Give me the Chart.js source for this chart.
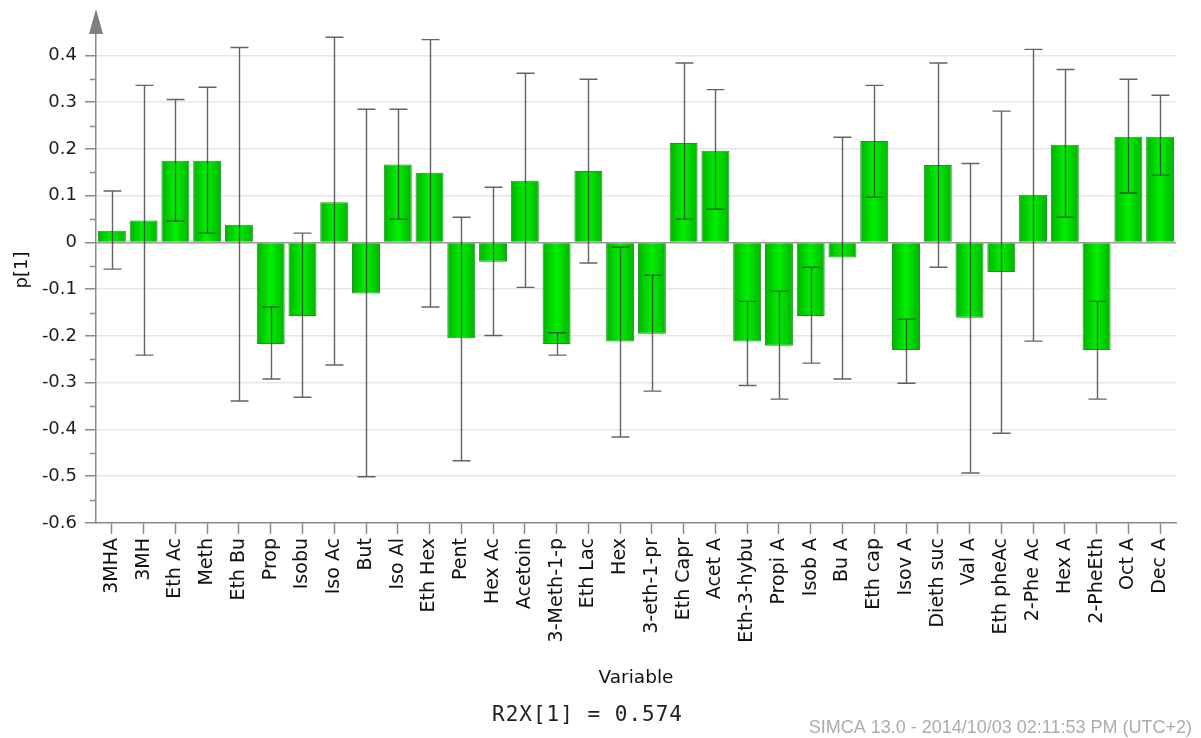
<!DOCTYPE html>
<html>
<head>
<meta charset="utf-8">
<title>p[1] loadings</title>
<script src="https://cdn.jsdelivr.net/npm/chart.js@4/dist/chart.umd.min.js"></script>
<style>
  html, body { margin: 0; padding: 0; background: #ffffff; }
  #wrap { width: 1201px; height: 738px; }
</style>
</head>
<body>
<div id="wrap"><canvas id="chart" width="1201" height="738"></canvas></div>
<script>
// Variables (x categories)
const variables = [
  '3MHA', '3MH', 'Eth Ac', 'Meth', 'Eth Bu', 'Prop', 'Isobu', 'Iso Ac', 'But', 'Iso Al',
  'Eth Hex', 'Pent', 'Hex Ac', 'Acetoin', '3-Meth-1-p', 'Eth Lac', 'Hex', '3-eth-1-pr',
  'Eth Capr', 'Acet A', 'Eth-3-hybu', 'Propi A', 'Isob A', 'Bu A', 'Eth cap', 'Isov A',
  'Dieth suc', 'Val A', 'Eth pheAc', '2-Phe Ac', 'Hex A', '2-PheEth', 'Oct A', 'Dec A'
];

// Loadings p[1]
const loadings = [
  0.025, 0.047, 0.175, 0.175, 0.038, -0.217, -0.157, 0.086, -0.109, 0.167,
  0.149, -0.205, -0.041, 0.132, -0.217, 0.153, -0.212, -0.195,
  0.213, 0.196, -0.212, -0.221, -0.157, -0.032, 0.217, -0.230,
  0.166, -0.161, -0.063, 0.102, 0.209, -0.230, 0.226, 0.226
];

// Confidence interval ends (upper / lower)
const ciUpper = [
  0.110, 0.336, 0.306, 0.332, 0.417, -0.138, 0.020, 0.439, 0.285, 0.285,
  0.434, 0.054, 0.118, 0.362, -0.193, 0.349, -0.010, -0.070,
  0.384, 0.327, -0.126, -0.104, -0.053, 0.225, 0.336, -0.164,
  0.384, 0.169, 0.281, 0.413, 0.370, -0.126, 0.349, 0.315
];
const ciLower = [
  -0.057, -0.241, 0.046, 0.020, -0.339, -0.292, -0.331, -0.262, -0.501, 0.050,
  -0.138, -0.467, -0.199, -0.096, -0.241, -0.044, -0.416, -0.318,
  0.050, 0.071, -0.306, -0.335, -0.258, -0.292, 0.097, -0.301,
  -0.053, -0.493, -0.408, -0.211, 0.054, -0.335, 0.106, 0.144
];

// Y axis range; ticks every 0.05, labels every 0.1
const yMin = -0.6;
const yMax = 0.4545;
const yTickValues = [
  -0.6, -0.55, -0.5, -0.45, -0.4, -0.35, -0.3, -0.25, -0.2, -0.15, -0.1, -0.05,
  0, 0.05, 0.1, 0.15, 0.2, 0.25, 0.3, 0.35, 0.4
];

// Texts
const yTitle = 'p[1]';
const xTitle = 'Variable';
const r2xText = 'R2X[1] = 0.574';
const footerText = 'SIMCA 13.0 - 2014/10/03 02:11:53 PM (UTC+2)';

const AXIS_GREY = '#8a8a8a';
const hundredths = v => Math.round(v * 100);

// Confidence interval whiskers on top of the bars
const errorBars = {
  id: 'errorBars',
  afterDatasetsDraw(chart) {
    const { ctx } = chart;
    const y = chart.scales.y;
    const meta = chart.getDatasetMeta(0);
    ctx.save();
    ctx.strokeStyle = 'rgba(60,60,60,0.8)';
    ctx.lineWidth = 1.4;
    meta.data.forEach((bar, i) => {
      const x = Math.round(bar.x) + 0.5;
      const yHi = y.getPixelForValue(ciUpper[i]);
      const yLo = y.getPixelForValue(ciLower[i]);
      const half = 9;
      ctx.beginPath();
      ctx.moveTo(x, yHi); ctx.lineTo(x, yLo);
      ctx.moveTo(x - half, yHi); ctx.lineTo(x + half, yHi);
      ctx.moveTo(x - half, yLo); ctx.lineTo(x + half, yLo);
      ctx.stroke();
    });
    ctx.restore();
  }
};

// Axis arrow, minor ticks, titles and footer
const decorations = {
  id: 'decorations',
  afterDraw(chart) {
    const { ctx, chartArea } = chart;
    const y = chart.scales.y;
    const left = chartArea.left;
    ctx.save();

    // arrow head on the y axis
    ctx.fillStyle = '#7f7f7f';
    ctx.beginPath();
    ctx.moveTo(left, 9);
    ctx.lineTo(left - 7, 34);
    ctx.lineTo(left + 7, 34);
    ctx.closePath();
    ctx.fill();

    // short minor ticks between labelled values
    ctx.strokeStyle = AXIS_GREY;
    ctx.lineWidth = 1.5;
    y.ticks.forEach(t => {
      if (hundredths(t.value) % 10 !== 0) {
        const py = Math.round(y.getPixelForValue(t.value)) + 0.5;
        ctx.beginPath();
        ctx.moveTo(left - 6, py);
        ctx.lineTo(left, py);
        ctx.stroke();
      }
    });

    // y title
    ctx.fillStyle = '#111';
    ctx.font = '18px "DejaVu Sans"';
    ctx.textAlign = 'center';
    ctx.textBaseline = 'middle';
    ctx.save();
    ctx.translate(22, 270);
    ctx.rotate(-Math.PI / 2);
    ctx.fillText(yTitle, 0, 0);
    ctx.restore();

    // x title
    ctx.font = '18.5px "DejaVu Sans"';
    ctx.textBaseline = 'alphabetic';
    ctx.fillText(xTitle, 636, 683);

    // explained variance
    ctx.font = '21px "DejaVu Sans Mono"';
    ctx.fillStyle = '#222';
    if ('letterSpacing' in ctx) ctx.letterSpacing = '1px';
    ctx.textAlign = 'left';
    ctx.fillText(r2xText, 492, 721);
    if ('letterSpacing' in ctx) ctx.letterSpacing = '0px';

    // footer stamp
    ctx.font = '18px "Liberation Sans"';
    ctx.fillStyle = '#acacac';
    ctx.textAlign = 'right';
    ctx.fillText(footerText, 1192, 733);

    ctx.restore();
  }
};

function barGradient(c) {
  const chart = c.chart;
  const xs = chart.scales && chart.scales.x;
  if (!chart.chartArea || !xs || c.dataIndex === undefined) return '#00cc00';
  const cx = xs.getPixelForValue(c.dataIndex);
  const w = (xs.width / variables.length) * 0.88;
  const g = chart.ctx.createLinearGradient(cx - w / 2, 0, cx + w / 2, 0);
  g.addColorStop(0, '#00b200');
  g.addColorStop(0.5, '#00f000');
  g.addColorStop(1, '#00b200');
  return g;
}

new Chart(document.getElementById('chart'), {
  type: 'bar',
  data: {
    labels: variables,
    datasets: [{
      data: loadings,
      backgroundColor: barGradient,
      borderColor: '#17961a',
      borderWidth: 1,
      barPercentage: 0.88,
      categoryPercentage: 1.0
    }]
  },
  options: {
    responsive: false,
    devicePixelRatio: 1,
    animation: false,
    layout: { padding: { left: 0, right: 25, top: 30, bottom: 0 } },
    plugins: {
      legend: { display: false },
      tooltip: { enabled: false },
      title: { display: false }
    },
    scales: {
      x: {
        afterFit(s) { s.height = 215; },
        offset: true,
        grid: {
          offset: false,
          drawOnChartArea: false,
          tickLength: 11,
          tickColor: AXIS_GREY,
          tickWidth: 1.5
        },
        border: { color: AXIS_GREY, width: 1.5 },
        ticks: {
          minRotation: 90,
          maxRotation: 90,
          autoSkip: false,
          padding: 4,
          color: '#111',
          font: { family: 'DejaVu Sans', size: 19 }
        }
      },
      y: {
        min: yMin,
        max: yMax,
        afterFit(s) { s.width = 96; },
        afterBuildTicks(s) { s.ticks = yTickValues.map(v => ({ value: v })); },
        ticks: {
          autoSkip: false,
          padding: 8,
          color: '#1c1c28',
          font: { family: 'DejaVu Sans', size: 18 },
          callback(v) {
            const k = hundredths(v);
            if (k % 10 !== 0) return '';
            return k === 0 ? '0' : (k / 100).toFixed(1);
          }
        },
        grid: {
          color(c) {
            const k = hundredths(c.tick.value);
            if (k === 0) return '#9a9a9a';
            if (k % 10 === 0 && k > -60) return '#e6e6e6';
            return 'rgba(0,0,0,0)';
          },
          lineWidth: 1.5,
          tickColor(c) {
            return hundredths(c.tick.value) % 10 === 0 ? AXIS_GREY : 'rgba(0,0,0,0)';
          },
          tickLength: 11,
          tickWidth: 1.5
        },
        border: { color: AXIS_GREY, width: 1.5 }
      }
    }
  },
  plugins: [errorBars, decorations]
});
</script>
</body>
</html>
